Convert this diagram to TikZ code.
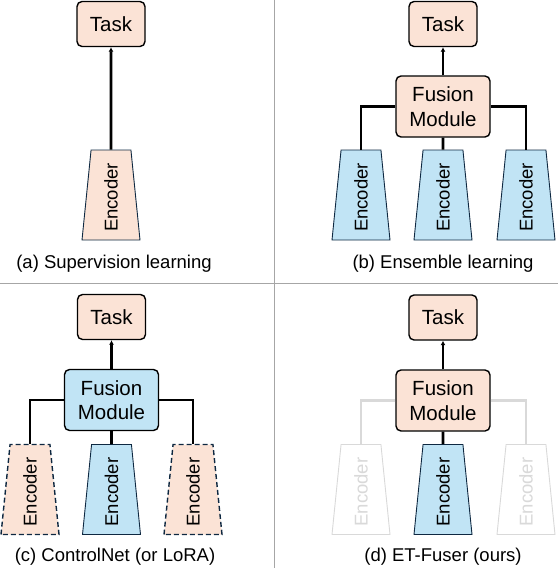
\documentclass[tikz,border=0pt]{standalone}
\usepackage{fontspec}
\setmainfont{Liberation Sans}
\usepackage{graphicx}
\usetikzlibrary{shapes.geometric, arrows.meta, positioning}
\definecolor{peach}{HTML}{FBE3D6}
\definecolor{skyb}{HTML}{C1E4F5}
\definecolor{navy}{HTML}{0E2841}
\definecolor{divgray}{HTML}{A6A6A6}
\definecolor{ghost}{HTML}{D9D9D9}
\newcommand{\enctext}{\rotatebox{90}{Encoder\hspace*{5pt}}}

\begin{document}
\begin{tikzpicture}[x=1pt, y=-1pt,
	box/.style={draw, line width=1.4pt, rounded corners=5pt, fill=peach, align=center, inner sep=0pt, font=\fontsize{20.5}{24.6}\selectfont},
	taskbox/.style={box, minimum width=68pt, minimum height=45pt},
	fusebox/.style={box, minimum width=94pt, minimum height=61pt},
	encbox/.style={trapezium, trapezium stretches body, trapezium left angle=83, trapezium right angle=83, minimum width=58pt, minimum height=90pt, inner sep=0pt, draw=navy, line width=0.9pt, fill=skyb, font=\fontsize{18.5}{22}\selectfont},
	frozen/.style={encbox, fill=peach, dashed, dash pattern=on 5pt off 3pt, line width=1.4pt},
	ghostenc/.style={encbox, fill=white, draw=ghost, text=ghost},
	caption/.style={font=\fontsize{18.5}{22}\selectfont},
	link/.style={line width=2.6pt},
	ghostlink/.style={link, draw=ghost},
	tip/.style={-{Latex[length=4.5pt, width=5pt]}},
	divider/.style={draw=divgray, line width=0.9pt}]

	\useasboundingbox (0,0) rectangle (558,568);
	\draw[divider] (274.5,0) -- (274.5,568);
	\draw[divider] (0,283) -- (558,283);

	% (a)
	\draw (111,24) node[taskbox] (ta) {Task}
		(111,195) node[encbox, fill=peach] (ea) {\enctext}
		(114,264) node[caption] (ca) {(a) Supervision learning};
	\draw[link, tip] (ea.north) -- (ta.south);

	% (b)
	\draw (443,24) node[taskbox] (tb) {Task}
		(443,106.5) node[fusebox] (fb) {Fusion\\Module}
		(361,195) node[encbox] (eb1) {\enctext}
		(443,195) node[encbox] (eb2) {\enctext}
		(526,195) node[encbox] (eb3) {\enctext}
		(443,264) node[caption] (cb) {(b) Ensemble learning};
	\draw[link, tip] (fb) -- (tb);
	\draw[link] (fb.west) -| (eb1.north);
	\draw[link] (fb) -- (eb2.north);
	\draw[link] (fb.east) -| (eb3.north);

	% (c)
	\draw (111.5,317) node[taskbox] (tc) {Task}
		(111.5,400) node[fusebox, fill=skyb] (fc) {Fusion\\Module}
		(30,489.5) node[frozen] (ec1) {\enctext}
		(111.5,489.5) node[encbox] (ec2) {\enctext}
		(193,489.5) node[frozen] (ec3) {\enctext}
		(115,557) node[caption] (cc) {(c) ControlNet (or LoRA)};
	\draw[link, tip] (fc) -- (tc);
	\draw[link] (fc.west) -| (ec1.north);
	\draw[link] (fc) -- (ec2.north);
	\draw[link] (fc.east) -| (ec3.north);

	% (d)
	\draw (443,317.5) node[taskbox] (td) {Task}
		(443,400.5) node[fusebox] (fd) {Fusion\\Module}
		(361,489.5) node[ghostenc] (ed1) {\enctext}
		(443,489.5) node[encbox] (ed2) {\enctext}
		(526,489.5) node[ghostenc] (ed3) {\enctext}
		(443,557) node[caption] (cd) {(d) ET-Fuser (ours)};
	\draw[link, tip] (fd) -- (td);
	\draw[ghostlink] (fd.west) -| (ed1.north);
	\draw[link] (fd) -- (ed2.north);
	\draw[ghostlink] (fd.east) -| (ed3.north);
\end{tikzpicture}
\end{document}
